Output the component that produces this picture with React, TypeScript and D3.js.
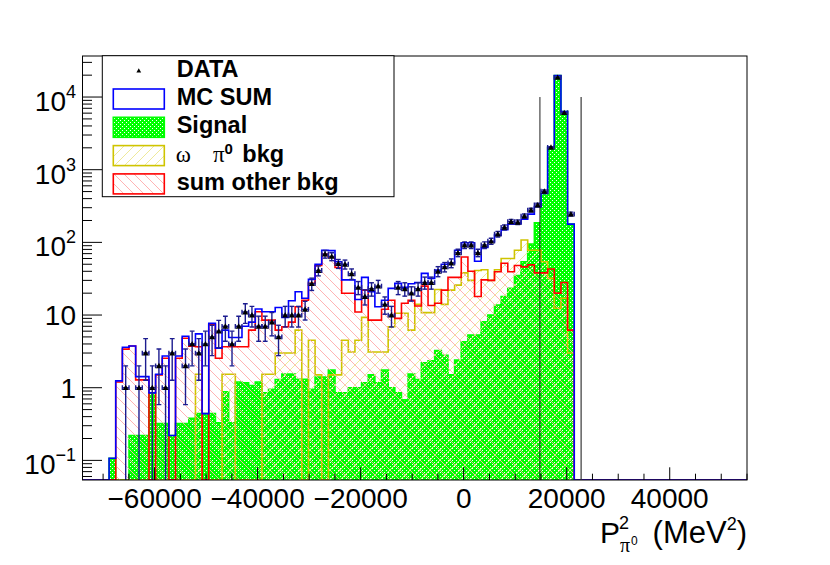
import * as d3 from "d3";
import React from "react";

// TH1 binning: 100 bins over the full axis range
const xMin = -74000;
const xMax = 55000;
const nBins = 100;
const firstBin = 4; // arrays below start at this bin

const mcSum = [
  0.107, 1.24, 3.6, 3.75, 1.42, 1.42, 0.85, 1.53, 2.73, 0.22,
  2.73, 5.1, 4.0, 5.5, 0.44, 7.7, 3.5, 6.2, 4.9, 4.9,
  7, 8, 12.1, 11.1, 11.1, 12.7, 9.3, 15.7, 20.9, 17.0,
  31, 50, 78, 77, 54, 30.5, 30.5, 16.4, 33, 21,
  13, 16, 23.3, 27.3, 24, 27, 28, 37.5, 32, 41.5,
  50, 52, 78, 99, 99, 55, 85, 102, 126, 150,
  178, 181, 208, 245, 310, 470, 2030, 19800, 6300, 178,
];
const signal = [
  0.107, 0, 0, 0.22, 0.22, 0.22, 0.85, 0.32, 0.32, 0.22,
  0.32, 0.32, 0.38, 0.44, 0.44, 0.44, 0.33, 0.88, 0.33, 1.2,
  1.17, 1.07, 1.2, 0.85, 0.95, 1.3, 1.54, 1.54, 1.31, 1.31,
  0.95, 1.4, 1.4, 1.75, 0.85, 0.85, 1.0, 1.0, 1.17, 1.5,
  1.17, 1.75, 1.0, 0.85, 0.68, 1.54, 1.3, 2.2, 2.35, 3.25,
  2.8, 1.5, 2.4, 4.3, 5.3, 5.3, 8.1, 10, 13.7, 17.9,
  23.3, 35, 54, 95, 186, 470, 2030, 19800, 6300, 178,
];
const omegaBkg = [
  0, 0, 0, 0, 0, 0, 0, 0, 0, 0,
  0, 0, 0, 1.53, 0, 0, 0, 1.53, 1.53, 0,
  0, 0, 0, 1.53, 1.53, 3.0, 3.0, 3.0, 6.2, 0,
  4.5, 1.5, 0, 1.5, 1.5, 4.5, 3.1, 4.5, 9.3, 3.1,
  3.1, 3.1, 6.9, 10.6, 10.6, 6.2, 14, 10.8, 10.8, 22.5,
  14, 22, 25.8, 38, 30, 41, 42, 30, 42, 60,
  60, 78, 108, 78, 78, 54, 32, 12.4, 17, 3.0,
];
const otherBkg = [
  0, 1.2, 3.4, 3.75, 1.28, 1.28, 0, 1.5, 2.54, 0,
  2.54, 4.8, 3.74, 3.66, 0, 7.4, 2.54, 3.66, 3.66, 3.66,
  3.66, 6.2, 11.1, 8.5, 8.5, 6.2, 6.9, 8, 13, 16,
  27.3, 48, 69, 63, 45, 19.9, 19.9, 11, 22, 8.5,
  8.5, 12, 16, 9, 14.5, 16, 13.3, 25, 13.5, 14.5,
  22, 33, 33, 63, 40, 18, 30.5, 30, 39.5, 51.5,
  39.5, 48, 46, 49, 38, 38, 43, 20, 28, 6.2,
];
const dataCounts = [
  0, 0, 1, 0, 1, 3, 1, 2, 1, 3,
  0, 2, 4, 3, 4, 5, 6, 7, 4, 7,
  11, 10, 7, 7, 8, 5, 10, 10, 10, 12,
  27, 41, 69, 64, 51, 50, 37, 24, 18, 23,
  25, 14, 10, 24, 23, 20, 23, 28, 28, 40,
  46, 52, 72, 92, 92, 72, 92, 104, 130, 161,
  193, 189, 230, 278, 327, 505, 2030, 18600, 6100, 245,
];

const xTicks = [-60000, -40000, -20000, 0, 20000, 40000];
const xTickLabels = ["\u221260000", "\u221240000", "\u221220000", "0", "20000", "40000"];
const yLabels = [
  { v: 0.1, base: "10", exp: "\u22121" },
  { v: 1, base: "1", exp: "" },
  { v: 10, base: "10", exp: "" },
  { v: 100, base: "10", exp: "2" },
  { v: 1000, base: "10", exp: "3" },
  { v: 10000, base: "10", exp: "4" },
];
const cutValues = [14800, 22800];
const cutTop = 10000;
const legendLabels = ["DATA", "MC SUM", "Signal", "omega", "sum other bkg"];

const W = 830, H = 565;
const F = { left: 82.5, right: 747, top: 56, bottom: 480 };
const yLow = 0.0537, yHigh = 36700;
const sans = "'Liberation Sans', Arial, Helvetica, sans-serif";
const serif = "'Liberation Serif', 'DejaVu Serif', serif";

const blue = "#0000ff";
const green = "#00ff00";
const yellow = "#cfc400";
const red = "#ff0000";
const errColor = "#1c1c8f";

const binWidth = (xMax - xMin) / nBins;
const fullBins = (arr: number[]) =>
  d3.range(nBins).map(i => {
    const k = i - firstBin;
    return k >= 0 && k < arr.length ? arr[k] : 0;
  });

export default function App() {
  const x = d3.scaleLinear().domain([xMin, xMax]).range([F.left, F.right]);
  const y = d3.scaleLog().domain([yLow, yHigh]).range([F.bottom, F.top]);
  const cl = (v: number) => Math.max(v, yLow);

  const steps = (arr: number[]) => {
    const v = fullBins(arr);
    return d3.range(nBins + 1).map(i => ({ e: xMin + i * binWidth, v: v[Math.min(i, nBins - 1)] }));
  };
  const area = d3.area<{ e: number; v: number }>().curve(d3.curveStepAfter)
    .x(d => x(d.e)).y0(y(yLow)).y1(d => y(cl(d.v)));
  const line = d3.line<{ e: number; v: number }>().curve(d3.curveStepAfter)
    .x(d => x(d.e)).y(d => y(cl(d.v)));

  const minorX = d3.range(-70000, xMax + 1, 5000);
  const logTicks = d3.range(-2, 5).flatMap(e => d3.range(1, 10).map(k => ({ v: k * Math.pow(10, e), major: k === 1 })))
    .filter(t => t.v >= yLow && t.v <= yHigh);

  const points = fullBins(dataCounts).map((n, i) => ({ n, c: xMin + (i + 0.5) * binWidth, i })).filter(p => p.n > 0);

  const tri = (cx: number, cy: number, s: number) => `M${cx - s},${cy + s * 0.8}L${cx + s},${cy + s * 0.8}L${cx},${cy - s * 1.0}Z`;

  const rowY = (i: number) => 70.7 + i * 28.3;
  const symX = 113.3, symW = 51, symH = 20, textX = 176.7;

  return (
    <svg width={W} height={H} viewBox={`0 0 ${W} ${H}`} style={{ position: "absolute", left: 0, top: 0, background: "#fff" }}>
      <defs>
        <pattern id="dots" width={4} height={4} patternUnits="userSpaceOnUse">
          <rect width={4} height={4} fill={green} />
          <rect x={0} y={0} width={1} height={1} fill="#ffffff" />
          <rect x={2} y={2} width={1} height={1} fill="#ffffff" />
        </pattern>
        <pattern id="hatchRed" width={10} height={10} patternUnits="userSpaceOnUse">
          <path d="M0,0L10,10M-2,8L2,12M8,-2L12,2" stroke="#ffaaaa" strokeWidth={0.9} />
        </pattern>
        <pattern id="hatchYel" width={10} height={10} patternUnits="userSpaceOnUse">
          <path d="M0,10L10,0M-2,2L2,-2M8,12L12,8" stroke="#ece690" strokeWidth={0.9} />
        </pattern>
        <clipPath id="frameClip">
          <rect x={F.left} y={F.top} width={F.right - F.left} height={F.bottom - F.top} />
        </clipPath>
      </defs>

      <g clipPath="url(#frameClip)">
        <path d={area(steps(signal)) ?? undefined} fill="url(#dots)" />
        <path d={line(steps(signal)) ?? undefined} fill="none" stroke={green} strokeWidth={1.6} />
        <path d={area(steps(omegaBkg)) ?? undefined} fill="url(#hatchYel)" />
        <path d={line(steps(omegaBkg)) ?? undefined} fill="none" stroke={yellow} strokeWidth={1.6} />
        <path d={area(steps(otherBkg)) ?? undefined} fill="url(#hatchRed)" />
        <path d={line(steps(otherBkg)) ?? undefined} fill="none" stroke={red} strokeWidth={1.6} />
        <path d={line(steps(mcSum)) ?? undefined} fill="none" stroke={blue} strokeWidth={1.6} />

        {cutValues.map((c, i) => (
          <line key={c} x1={x(c)} x2={x(c)} y1={y(cutTop)} y2={F.bottom} stroke={i === 0 ? "#222" : "#555"} strokeWidth={i === 0 ? 1 : 1.4} />
        ))}

        {points.map(p => {
          const cx = x(p.c), cy = y(p.n);
          const err = Math.sqrt(p.n);
          const yt = y(p.n + err), yb = y(cl(p.n - err));
          const hx = (x(binWidth) - x(0)) / 2;
          return (
            <g key={p.i} stroke={errColor} strokeWidth={1.4}>
              <line x1={cx} x2={cx} y1={yt} y2={yb} />
              <line x1={cx - 2.4} x2={cx + 2.4} y1={yt} y2={yt} />
              {yb < F.bottom - 1 && <line x1={cx - 2.4} x2={cx + 2.4} y1={yb} y2={yb} />}
              <line x1={cx - hx} x2={cx + hx} y1={cy} y2={cy} />
              <line x1={cx - hx} x2={cx - hx} y1={cy - 2.4} y2={cy + 2.4} />
              <line x1={cx + hx} x2={cx + hx} y1={cy - 2.4} y2={cy + 2.4} />
              <path d={tri(cx, cy, 3)} fill="#000" stroke="none" />
            </g>
          );
        })}
      </g>

      {/* axes */}
      <rect x={F.left} y={F.top} width={F.right - F.left} height={F.bottom - F.top} fill="none" stroke="#000" strokeWidth={1} />
      {minorX.map(t => {
        const major = xTicks.includes(t);
        return <line key={t} x1={x(t)} x2={x(t)} y1={F.bottom} y2={F.bottom - (major ? 12.7 : 6.3)} stroke="#000" strokeWidth={1} />;
      })}
      {logTicks.map(t => (
        <line key={t.v} x1={F.left} x2={F.left + (t.major ? 19.5 : 9.5)} y1={y(t.v)} y2={y(t.v)} stroke="#000" strokeWidth={1} />
      ))}
      {xTicks.map((t, i) => (
        <text key={t} x={x(t)} y={508} textAnchor="middle" fontFamily={sans} fontSize={28}>{xTickLabels[i]}</text>
      ))}
      {yLabels.map(l => (
        <text key={l.v} x={76} y={y(l.v) + (l.exp ? 14 : 10)} textAnchor="end" fontFamily={sans} fontSize={28}>
          {l.base}
          {l.exp && <tspan dy={-13} fontSize={18}>{l.exp}</tspan>}
        </text>
      ))}

      {/* x-axis title */}
      <g fontFamily={sans}>
        <text x={600} y={543} fontSize={30}>P</text>
        <text x={619} y={529} fontSize={18}>2</text>
        <text x={620} y={552} fontSize={20} fontFamily={serif}>π</text>
        <text x={631} y={545} fontSize={12}>0</text>
        <text x={747} y={543} textAnchor="end" fontSize={31}>
          (MeV<tspan dy={-13} fontSize={18}>2</tspan><tspan dy={13}>)</tspan>
        </text>
      </g>

      {/* legend */}
      <rect x={102.3} y={55.7} width={291.7} height={141} fill="#fff" stroke="#000" strokeWidth={1} />
      <path d={tri(symX + symW / 2, rowY(0), 2.4)} fill="#000" />
      <rect x={symX} y={rowY(1) - symH / 2} width={symW} height={symH} fill="#fff" stroke={blue} strokeWidth={1.6} />
      <rect x={symX} y={rowY(2) - symH / 2} width={symW} height={symH} fill="url(#dots)" stroke={green} strokeWidth={1.6} />
      <rect x={symX} y={rowY(3) - symH / 2} width={symW} height={symH} fill="url(#hatchYel)" stroke={yellow} strokeWidth={1.6} />
      <rect x={symX} y={rowY(4) - symH / 2} width={symW} height={symH} fill="url(#hatchRed)" stroke={red} strokeWidth={1.6} />
      <g fontFamily={sans} fontWeight="bold" fontSize={23.5}>
        {[0, 1, 2, 4].map(i => (
          <text key={i} x={textX} y={rowY(i) + 6}>{legendLabels[i]}</text>
        ))}
        <text x={textX - 1} y={rowY(3) + 6} fontFamily={serif} fontWeight="normal" fontSize={23}>ω</text>
        <text x={213} y={rowY(3) + 6} fontFamily={serif} fontWeight="normal" fontSize={23}>π</text>
        <text x={224.5} y={rowY(3) - 1.5} fontSize={15}>0</text>
        <text x={242.3} y={rowY(3) + 6}>bkg</text>
      </g>
    </svg>
  );
}
